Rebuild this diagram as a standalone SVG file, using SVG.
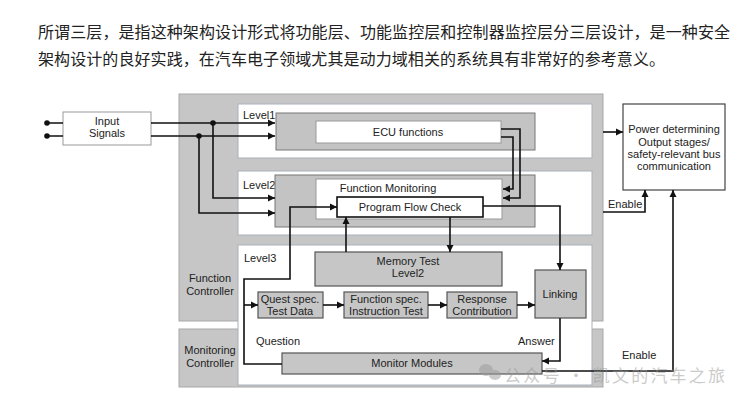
<svg xmlns="http://www.w3.org/2000/svg" width="749" height="400" viewBox="0 0 749 400">
<defs>
<marker id="ah" markerWidth="8" markerHeight="8" refX="7" refY="4" orient="auto" markerUnits="userSpaceOnUse">
<path d="M0,0.5 L7,4 L0,7.5 Z" fill="#111"/>
</marker>
<style>
.t{font-family:"Liberation Sans",Arial,sans-serif;font-size:11px;fill:#222;text-anchor:middle}
.tl{font-family:"Liberation Sans",Arial,sans-serif;font-size:11px;fill:#222}
.cn{font-family:"Noto Sans CJK SC","Noto Sans",sans-serif;font-size:16px;fill:#222}
.gray{fill:#c6c6c6;stroke:#a8a8a8;stroke-width:1}
.lvl{fill:#fff;stroke:#a9b1b9;stroke-width:1}
.inner{fill:#c3c3c3;stroke:#777;stroke-width:1}
.wb{fill:#fff;stroke:#999;stroke-width:1}
.tb{fill:#c6c6c6;stroke:#555;stroke-width:1.2}
.c{fill:none;stroke:#111;stroke-width:1.6}
.ca{fill:none;stroke:#111;stroke-width:1.6;marker-end:url(#ah)}
</style>
</defs>
<rect width="749" height="400" fill="#fff"/>
<text class="cn" x="38" y="38" textLength="692" lengthAdjust="spacing">所谓三层，是指这种架构设计形式将功能层、功能监控层和控制器监控层分三层设计，是一种安全</text>
<text class="cn" x="38" y="65" textLength="627" lengthAdjust="spacing">架构设计的良好实践，在汽车电子领域尤其是动力域相关的系统具有非常好的参考意义。</text>

<g id="function-controller">
<rect class="gray" x="179" y="94" width="424" height="227"/>
<text class="t" x="210" y="282">Function</text>
<text class="t" x="210" y="295">Controller</text>
</g>
<g id="monitoring-controller">
<rect class="gray" x="179" y="329" width="424" height="58"/>
<text class="t" x="210" y="354">Monitoring</text>
<text class="t" x="210" y="367">Controller</text>
</g>
<g id="level1">
<rect class="lvl" x="238" y="104" width="354" height="54"/>
<text class="tl" x="243" y="119">Level1</text>
<rect class="inner" x="276" y="113" width="259" height="37"/>
</g>
<g id="ecu-functions">
<rect class="wb" x="316" y="121" width="185" height="22"/>
<text class="t" x="408" y="136">ECU functions</text>
</g>
<g id="level2">
<rect class="lvl" x="238" y="171" width="354" height="64"/>
<text class="tl" x="243" y="189">Level2</text>
<rect class="inner" x="275" y="175" width="260" height="52"/>
</g>
<g id="function-monitoring">
<rect class="wb" x="316" y="179" width="186" height="40"/>
<text class="t" x="388" y="192">Function Monitoring</text>
</g>
<g id="program-flow-check">
<rect x="337" y="197" width="146" height="20" fill="#fff" stroke="#111" stroke-width="1.6"/>
<text class="t" x="410" y="211">Program Flow Check</text>
</g>
<g id="level3">
<rect class="lvl" x="238" y="245" width="354" height="140"/>
<text class="tl" x="244" y="262">Level3</text>
</g>
<g id="memory-test">
<rect class="tb" x="315" y="252" width="187" height="34"/>
<text class="t" x="408" y="265">Memory Test</text>
<text class="t" x="408" y="277">Level2</text>
</g>
<g id="quest-spec">
<rect class="tb" x="258" y="292" width="65" height="26"/>
<text class="t" x="290" y="303">Quest spec.</text>
<text class="t" x="290" y="315">Test Data</text>
</g>
<g id="function-spec">
<rect class="tb" x="344" y="292" width="84" height="26"/>
<text class="t" x="386" y="303">Function spec.</text>
<text class="t" x="386" y="315">Instruction Test</text>
</g>
<g id="response-contribution">
<rect class="tb" x="447" y="292" width="70" height="26"/>
<text class="t" x="482" y="303">Response</text>
<text class="t" x="482" y="315">Contribution</text>
</g>
<g id="linking">
<rect class="tb" x="535" y="270" width="51" height="48"/>
<text class="t" x="560" y="298">Linking</text>
</g>
<g id="monitor-modules">
<rect class="tb" x="282" y="353" width="260" height="21"/>
<text class="t" x="412" y="367">Monitor Modules</text>
</g>
<g id="input-signals">
<rect class="wb" x="63" y="112" width="88" height="33" stroke="#555"/>
<text class="t" x="107" y="125">Input</text>
<text class="t" x="107" y="137">Signals</text>
</g>
<g id="power-box">
<rect x="623" y="104" width="102" height="86" fill="#fff" stroke="#444" stroke-width="1.2"/>
<text class="t" x="674" y="133">Power determining</text>
<text class="t" x="674" y="146">Output stages/</text>
<text class="t" x="674" y="158">safety-relevant bus</text>
<text class="t" x="674" y="170">communication</text>
</g>

<g id="connectors">
<circle cx="47" cy="123" r="2.8" fill="#111"/>
<circle cx="47" cy="136" r="2.8" fill="#111"/>
<path class="c" d="M47,123 H63 M47,136 H63"/>
<path class="ca" d="M151,123 H275"/>
<path class="ca" d="M151,136 H275"/>
<circle cx="213" cy="123" r="2.8" fill="#111"/>
<circle cx="199" cy="136" r="2.8" fill="#111"/>
<path class="ca" d="M213,123 V198 H275"/>
<path class="ca" d="M199,136 V213 H275"/>
<path class="ca" d="M501,129 H520 V198 H503"/>
<path class="ca" d="M501,137 H513 V189 H503"/>
<path class="ca" d="M483,206 H560 V270"/>
<path class="ca" d="M450,217 V252"/>
<path class="ca" d="M346,252 V217"/>
<path class="ca" d="M282,364 H244 V279 H290 V207 H337"/>
<path class="ca" d="M244,305 H258"/>
<path class="ca" d="M323,305 H344"/>
<path class="ca" d="M428,305 H447"/>
<path class="ca" d="M517,305 H535"/>
<path class="ca" d="M560,318 V361 H542"/>
<path class="ca" d="M542,371 H673 V190"/>
<path class="ca" d="M603,132 H623"/>
<path class="ca" d="M603,212 H645 V190"/>
<text class="tl" x="256" y="345">Question</text>
<text class="tl" x="518" y="345">Answer</text>
<text class="tl" x="608" y="208">Enable</text>
<text class="tl" x="622" y="359">Enable</text>
</g>

<g id="watermark" opacity="0.5">
<ellipse cx="486" cy="370" rx="7" ry="6" fill="#999"/>
<ellipse cx="495" cy="375" rx="6" ry="5" fill="#999"/>
<text x="504" y="382" font-family="Noto Sans CJK SC,sans-serif" font-size="17" fill="#999" textLength="221" lengthAdjust="spacing">公众号 · 凯文的汽车之旅</text>
</g>
</svg>
